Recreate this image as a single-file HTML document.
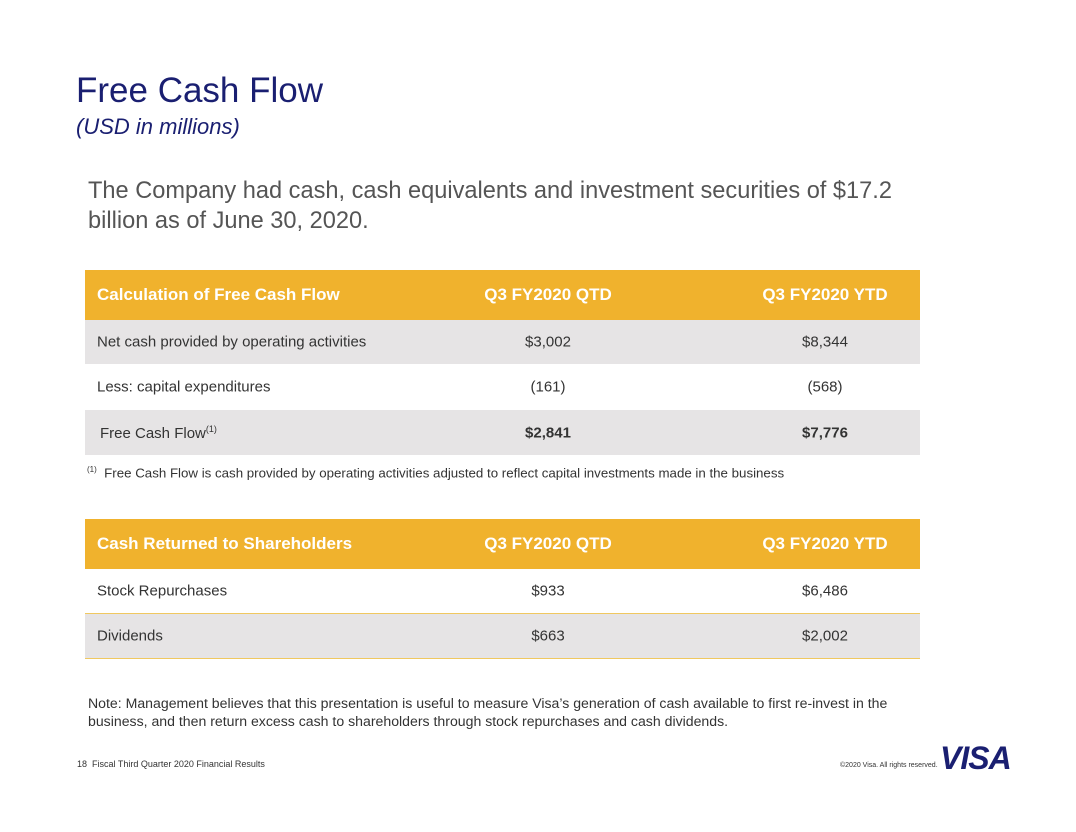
<!DOCTYPE html>
<html><head><meta charset="utf-8"><style>
body{margin:0;width:1076px;height:832px;background:#fff;position:relative;overflow:hidden;font-family:"Liberation Sans",sans-serif}
.a{position:absolute;white-space:nowrap}
.row{position:absolute;left:85px;width:835px;font-size:15px;color:#333}
.row span{position:absolute;top:50%;transform:translateY(-50%);white-space:nowrap}
.hd{background:#f0b22d;color:#fff;font-weight:bold;font-size:17px}
.g{background:#e6e4e5}
.c1{left:12px}.c2{left:463px;transform:translate(-50%,-50%)!important}.c3{left:740px;transform:translate(-50%,-50%)!important}
</style></head><body>
<div class="a" style="left:76px;top:71px;font-size:35px;color:#1a1f71">Free Cash Flow</div>
<div class="a" style="left:76px;top:114px;font-size:22px;font-style:italic;color:#1a1f71">(USD in millions)</div>
<div class="a" style="left:88px;top:176px;font-size:23.6px;color:#555;line-height:30px">The Company had cash, cash equivalents and investment securities of $17.2<br>billion as of June 30, 2020.</div>

<div class="row hd" style="top:270px;height:50px"><span class="c1">Calculation of Free Cash Flow</span><span class="c2">Q3 FY2020 QTD</span><span class="c3">Q3 FY2020 YTD</span></div>
<div class="row g" style="top:320px;height:44px"><span class="c1">Net cash provided by operating activities</span><span class="c2">$3,002</span><span class="c3">$8,344</span></div>
<div class="row" style="top:364px;height:46px"><span class="c1">Less: capital expenditures</span><span class="c2">(161)</span><span class="c3">(568)</span></div>
<div class="row g" style="top:410px;height:45px"><span class="c1" style="left:15px">Free Cash Flow<sup style="font-size:9px">(1)</sup></span><span class="c2" style="font-weight:bold">$2,841</span><span class="c3" style="font-weight:bold">$7,776</span></div>
<div class="a" style="left:87px;top:465px;font-size:13.3px;color:#333"><sup style="font-size:8px">(1)</sup>&nbsp; Free Cash Flow is cash provided by operating activities adjusted to reflect capital investments made in the business</div>

<div class="row hd" style="top:519px;height:50px"><span class="c1">Cash Returned to Shareholders</span><span class="c2">Q3 FY2020 QTD</span><span class="c3">Q3 FY2020 YTD</span></div>
<div class="row" style="top:569px;height:44px;border-bottom:1px solid #f0c860"><span class="c1">Stock Repurchases</span><span class="c2">$933</span><span class="c3">$6,486</span></div>
<div class="row g" style="top:614px;height:44px;border-bottom:1px solid #f0c860"><span class="c1">Dividends</span><span class="c2">$663</span><span class="c3">$2,002</span></div>

<div class="a" style="left:88px;top:694px;font-size:14.1px;color:#333;line-height:18px">Note: Management believes that this presentation is useful to measure Visa’s generation of cash available to first re-invest in the<br>business, and then return excess cash to shareholders through stock repurchases and cash dividends.</div>

<div class="a" style="left:77px;top:759px;font-size:9px;color:#333">18&nbsp; Fiscal Third Quarter 2020 Financial Results</div>
<div class="a" style="left:840px;top:762px;font-size:7px;color:#333">©2020 Visa. All rights reserved.</div>
<div class="a" style="left:940px;top:740px;font-size:32px;font-weight:bold;font-style:italic;color:#1a1f71;letter-spacing:-1px">VISA</div>
</body></html>
